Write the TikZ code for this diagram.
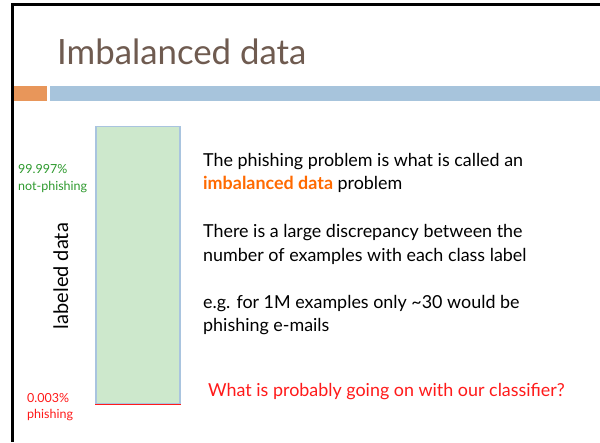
\documentclass[tikz,border=0pt]{standalone}
\usepackage{fontspec}
\setmainfont{Lato}
\definecolor{titlebrown}{HTML}{6F5B50}
\definecolor{accentorange}{HTML}{E8965A}
\definecolor{accentblue}{HTML}{A7C4DC}
\definecolor{barfill}{HTML}{CDE8CC}
\definecolor{baredge}{HTML}{A9C4DF}
\definecolor{okgreen}{HTML}{2E9A2E}
\definecolor{alertred}{HTML}{FF1A1A}
\definecolor{keyorange}{HTML}{FF6A00}
\tikzset{
  body/.style={anchor=base west, inner sep=0pt, font=\fontsize{17.9}{20}\selectfont},
  sidelabel/.style={anchor=base west, inner sep=0pt, font=\fontsize{12.5}{14}\selectfont},
}
\begin{document}
\begin{tikzpicture}[x=1pt,y=-1pt]
  \useasboundingbox (0,0) rectangle (600,442);
  \fill[white] (0,0) rectangle (600,442);
  % slide frame (left and top rules)
  \fill[black] (11,3) rectangle (14,442);
  \fill[black] (11,3) rectangle (600,5.5);
  % title
  \node[anchor=base west, inner sep=0pt, text=titlebrown,
        font=\fontsize{34.8}{38}\selectfont] (title) at (57,64) {Imbalanced data};
  % header bars
  \fill[accentorange] (14,86) rectangle (47,100.5);
  \fill[accentblue] (50,86) rectangle (600,100.5);
  % labeled data column
  \node[draw=baredge, line width=1.8pt, fill=barfill, minimum width=84pt,
        minimum height=277pt, inner sep=0pt] (col) at (138,265) {};
  \draw[alertred, line width=1.3pt] (col.south west) -- (col.south east);
  \node[anchor=base, rotate=90, inner sep=0pt, font=\fontsize{20}{22}\selectfont]
        (lab) at (68,276) {labeled data};
  % class shares
  \node[sidelabel, text=okgreen] (pctA) at (18,173) {99.997\%};
  \node[sidelabel, text=okgreen] (nameA) at (18,190) {not-phishing};
  \node[sidelabel, text=alertred] (pctB) at (27,402) {0.003\%};
  \node[sidelabel, text=alertred] (nameB) at (27,418) {phishing};
  % explanation text
  \node[body] (l1) at (203,166.5) {The phishing problem is what is called an};
  \node[body] (l2) at (203,189) {\textcolor{keyorange}{\bfseries imbalanced data} problem};
  \node[body] (l3) at (203,237) {There is a large discrepancy between the};
  \node[body] (l4) at (203,261) {number of examples with each class label};
  \node[body] (l5) at (203,308) {e.g. for 1M examples only \char"007E 30 would be};
  \node[body] (l6) at (203,331) {phishing e-mails};
  \node[body, text=alertred] (q) at (208,396) {What is probably going on with our classifier?};
\end{tikzpicture}
\end{document}
